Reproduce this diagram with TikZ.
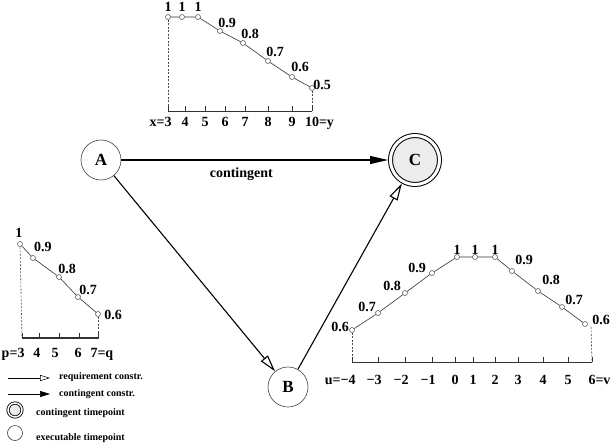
\documentclass[tikz,border=0pt]{standalone}
\usepackage{fontspec}
\setmainfont{Liberation Serif}
\usetikzlibrary{arrows.meta}
\begin{document}
\begin{tikzpicture}[x=1pt,y=-1pt,
  font=\fontsize{14}{16}\selectfont\bfseries,
  evento/.style={circle,draw=black!75,line width=0.6pt,minimum size=40pt,inner sep=0pt,
    font=\fontsize{17}{18}\selectfont\bfseries},
  contingente/.style={evento,draw=black,line width=1pt,fill=gray!15,double=white,
    double distance=3pt,minimum size=49pt,outer sep=2.5pt},
  req/.style={line width=1.1pt,-{Triangle[open,length=17pt,width=9pt]}},
  cont/.style={line width=1.1pt,-{Triangle[length=18pt,width=8pt]}},
  pto/.style={circle,draw=black!70,fill=white,line width=0.5pt,inner sep=0pt,minimum size=5pt},
  curva/.style={black!80,line width=0.6pt},
  guia/.style={black!70,line width=0.6pt,dash pattern=on 2pt off 1.5pt},
  eje/.style={black!80,line width=0.7pt},
  marca/.style={inner sep=0pt,text depth=0pt},
  ley/.style={font=\fontsize{10}{12}\selectfont\bfseries,anchor=west,inner sep=0pt}]
  \useasboundingbox (0,0) rectangle (614,445);
  % red de eventos
  \node[evento] (A) at (101,160) {A};
  \node[evento] (B) at (288,387) {B};
  \node[contingente] (C) at (415,160) {C};
  \draw[cont] (A) -- (C) node[pos=0.45,below=4pt] (lbl) {contingent};
  \draw[req] (A) -- (B);
  \draw[req] (B) -- (C);
  % grafica superior (x=3 .. 10=y)
  \foreach \n/\x/\y in {1/168/17,2/182/17,3/198/17,4/220/31,5/243/43,6/268/61,7/292/77,8/312/88}
    \node[pto] (t\n) at (\x,\y) {};
  \draw[curva] (t1)--(t2)--(t3)--(t4)--(t5)--(t6)--(t7)--(t8);
  \foreach \n/\v/\x/\y in {1/1/168/7,2/1/182/7,3/1/198/7,4/0.9/227/23,5/0.8/250/34,
      6/0.7/275/52,7/0.6/300/67,8/0.5/322/85}
    \node[marca] (tv\n) at (\x,\y) {\v};
  \coordinate (ta) at (168,111);
  \coordinate (tb) at (312,111);
  \draw[guia] (t1) -- (ta);
  \draw[guia] (t8) -- (tb);
  \draw[eje] (ta) -- (tb);
  \foreach \x/\v in {168/\llap{x=}3,185/4,205/5,225/6,245/7,268/8,292/9,312/10\rlap{=y}}{
    \draw[eje] (\x,111) -- (\x,106);
    \node[marca] (tx\x) at (\x,122) {\v};
  }
  % grafica izquierda (p=3 .. 7=q)
  \foreach \n/\x/\y in {1/20/244,2/33/258,3/59/277,4/78/297,5/98/314}
    \node[pto] (l\n) at (\x,\y) {};
  \draw[curva] (l1)--(l2)--(l3)--(l4)--(l5);
  \foreach \n/\v/\x/\y in {1/1/19/233,2/0.9/43/247,3/0.8/67/269,4/0.7/88/290,5/0.6/113/315}
    \node[marca] (lv\n) at (\x,\y) {\v};
  \coordinate (la) at (22,338);
  \coordinate (lb) at (98,338);
  \draw[guia] (l1) -- (la);
  \draw[guia] (l5) -- (lb);
  \draw[eje,line width=1.4pt] (la) -- (lb);
  \foreach \x/\lx/\v in {22/21/\llap{p=}3,39/37/4,59/55/5,79/78/6,98/94/7\rlap{=q}}{
    \draw[eje] (\x,338) -- (\x,333);
    \node[marca] (lx\x) at (\lx,353) {\v};
  }
  % grafica derecha (u=-4 .. 6=v)
  \foreach \n/\x/\y in {1/352/330,2/378/313,3/405/293,4/432/273,5/457/257,6/475/257,
      7/495/257,8/512/271,9/538/291,10/562/307,11/585/324}
    \node[pto] (r\n) at (\x,\y) {};
  \draw[curva] (r1)--(r2)--(r3)--(r4)--(r5)--(r6)--(r7)--(r8)--(r9)--(r10)--(r11);
  \foreach \n/\v/\x/\y in {1/0.6/340/327,2/0.7/367/307,3/0.8/392/286,4/0.9/417/268,
      5/1/457/250,6/1/475/250,7/1/495/250,8/0.9/524/260,9/0.8/551/280,10/0.7/574/300,
      11/0.6/601/320}
    \node[marca] (rv\n) at (\x,\y) {\v};
  \coordinate (ra) at (352,362);
  \coordinate (rb) at (592,362);
  \coordinate (rc) at (591,327);
  \draw[guia] (r1) -- (ra);
  \draw[guia] (rc) -- (rb);
  \draw[eje] (ra) -- (rb);
  \foreach \x/\v in {352/\llap{u=−}4,378/\llap{−}3,405/\llap{−}2,432/\llap{−}1,455/0,
      473/1,495/2,518/3,543/4,568/5,592/6\rlap{=v}}{
    \draw[eje] (\x,362) -- (\x,357);
    \node[marca] (rx\x) at (\x,380) {\v};
  }
  % leyenda
  \coordinate (q1) at (8,378);
  \coordinate (q2) at (50,378);
  \coordinate (q3) at (8,394);
  \coordinate (q4) at (50,394);
  \draw[line width=0.5pt,-{Triangle[open,length=10pt,width=6pt]}] (q1) -- (q2);
  \draw[line width=0.5pt,-{Triangle[length=10pt,width=6pt]}] (q3) -- (q4);
  \node[ley] (tq1) at (59,377) {requirement constr.};
  \node[ley] (tq2) at (59,394) {contingent constr.};
  \node[contingente,minimum size=14pt,double distance=1.5pt,line width=0.8pt,outer sep=0pt]
    (qc) at (15,410) {};
  \node[evento,minimum size=15pt] (qe) at (15,433) {};
  \node[ley] (tqc) at (36,413) {contingent timepoint};
  \node[ley] (tqe) at (36,438) {executable timepoint};
\end{tikzpicture}
\end{document}
